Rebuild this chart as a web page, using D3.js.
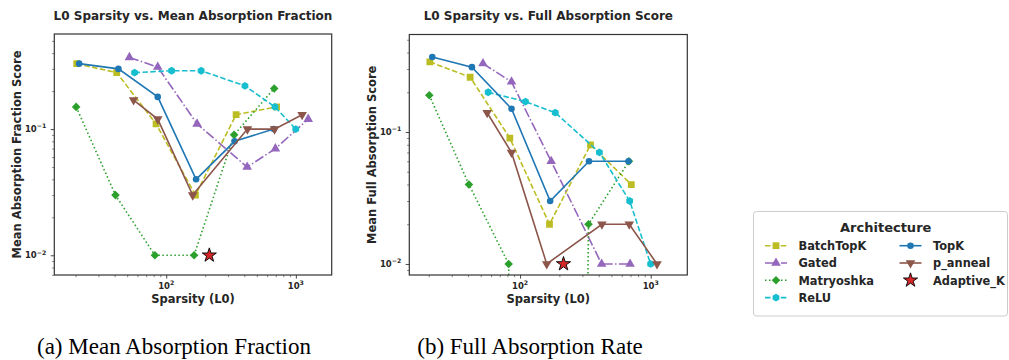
<!DOCTYPE html>
<html>
<head>
<meta charset="utf-8">
<script src="https://cdnjs.cloudflare.com/ajax/libs/d3/7.8.5/d3.min.js"></script>
<style>
  body { margin: 0; background: #fff; }
  svg { display: block; font-family: "DejaVu Sans", sans-serif; }
</style>
</head>
<body>
<div id="chart"></div>
<script>
// series, in the order they were plotted
var architectures = ["BatchTopK", "Gated", "Matryoshka", "ReLU", "TopK", "p_anneal"];

// L0 sparsity of each run
var sparsityBatchTopK  = [20.4, 41.5, 83.5, 168, 346, 710];
var sparsityGated      = [52, 86, 173, 421, 695, 1245];
var sparsityMatryoshka = [20.2, 40.6, 81.8, 164, 334, 681];
var sparsityReLU       = [57, 110, 186, 405, 690, 998];
var sparsityTopK       = [21.3, 42.8, 86, 170, 337, 676];
var sparsityPAnneal    = [56, 86, 160, 423, 685, 1117];

// (a) mean absorption fraction
var meanBatchTopK  = [0.33, 0.28, 0.11, 0.03, 0.13, 0.15];
var meanGated      = [0.37, 0.31, 0.11, 0.05, 0.07, 0.12];
var meanMatryoshka = [0.15, 0.03, 0.01, 0.01, 0.09, 0.21];
var meanReLU       = [0.28, 0.29, 0.29, 0.22, 0.15, 0.10];
var meanTopK       = [0.33, 0.30, 0.18, 0.04, 0.08, 0.10];
var meanPAnneal    = [0.17, 0.12, 0.03, 0.10, 0.10, 0.13];

// (b) full absorption score (0 = off the log axis, null = missing)
var fullBatchTopK  = [0.34, 0.26, 0.09, 0.02, 0.08, 0.04];
var fullGated      = [0.33, 0.24, 0.06, 0.01, 0.01, null];
var fullMatryoshka = [0.19, 0.04, 0.01, 0, 0.02, 0.06];
var fullReLU       = [0.20, 0.17, 0.14, 0.07, 0.03, 0.01];
var fullTopK       = [0.37, 0.31, 0.15, 0.03, 0.06, 0.06];
var fullPAnneal    = [0.14, 0.07, 0.01, 0.02, 0.02, 0.01];

// the single Adaptive_K run
var adaptiveKSparsity = [215];
var adaptiveKMean = [0.01];
var adaptiveKFull = [0.01];

var panelTitles = ["L0 Sparsity vs. Mean Absorption Fraction", "L0 Sparsity vs. Full Absorption Score"];
var yLabels = ["Mean Absorption Fraction Score", "Mean Full Absorption Score"];
var xLabel = "Sparsity (L0)";
var captions = ["(a) Mean Absorption Fraction", "(b) Full Absorption Rate"];
var legendTitle = "Architecture";

var sparsity = [sparsityBatchTopK, sparsityGated, sparsityMatryoshka, sparsityReLU, sparsityTopK, sparsityPAnneal];
var meanValues = [meanBatchTopK, meanGated, meanMatryoshka, meanReLU, meanTopK, meanPAnneal];
var fullValues = [fullBatchTopK, fullGated, fullMatryoshka, fullReLU, fullTopK, fullPAnneal];

// look of each architecture
var colors = {
  BatchTopK: "#bcbd22", Gated: "#9467bd", Matryoshka: "#2ca02c",
  ReLU: "#17becf", TopK: "#1f77b4", p_anneal: "#8c564b"
};
var dashes = {
  BatchTopK: "5.5,2.4", Gated: "9.6,2.4,1.5,2.4", Matryoshka: "1.5,2.5",
  ReLU: "5.5,2.4", TopK: null, p_anneal: null
};
var markers = {
  BatchTopK: "square", Gated: "up", Matryoshka: "diamond",
  ReLU: "hexagon", TopK: "circle", p_anneal: "down"
};

var width = 1009, height = 360;
var textColor = "#262626";

var svg = d3.select("#chart").append("svg")
  .attr("width", width)
  .attr("height", height);

// marker shapes, centred on 0,0
function markerPath(kind) {
  if (kind == "square") return d3.symbol(d3.symbolSquare, 46)();
  if (kind == "circle") return d3.symbol(d3.symbolCircle, 34)();
  if (kind == "up") return d3.symbol(d3.symbolTriangle, 40)();
  if (kind == "down") return d3.symbol(d3.symbolTriangle, 40)();
  if (kind == "star") return d3.symbol(d3.symbolStar, 62)();
  if (kind == "diamond") {
    var r = 4.3;
    return "M0," + (-r) + "L" + r + ",0L0," + r + "L" + (-r) + ",0Z";
  }
  if (kind == "hexagon") {
    var pts = d3.range(6).map(function(i) {
      var a = Math.PI / 3 * i - Math.PI / 2;
      return [3.9 * Math.cos(a), 3.9 * Math.sin(a)];
    });
    return "M" + pts.join("L") + "Z";
  }
}

function addMarker(sel, kind, color) {
  var m = sel.append("path")
    .attr("d", markerPath(kind))
    .attr("fill", color);
  if (kind == "down") m.attr("transform", "rotate(180)");
  if (kind == "star") m.attr("stroke", "#000").attr("stroke-width", 0.9);
  return m;
}

// "10" with a superscript exponent, like matplotlib's log labels
function powerLabel(sel, v) {
  var e = Math.round(Math.log10(v));
  sel.append("tspan").text("10");
  sel.append("tspan")
    .attr("dy", -3.8)
    .attr("font-size", 6.2)
    .text(e < 0 ? "\u2212" + (-e) : e);
}

function minorTicks(domain) {
  var out = [];
  for (var k = -4; k <= 4; k++) {
    for (var m = 2; m <= 9; m++) {
      var v = m * Math.pow(10, k);
      if (v >= domain[0] && v <= domain[1]) out.push(v);
    }
  }
  return out;
}

function majorTicks(domain) {
  var out = [];
  for (var k = -4; k <= 4; k++) {
    var v = Math.pow(10, k);
    if (v >= domain[0] && v <= domain[1]) out.push(v);
  }
  return out;
}

var panels = [
  { left: 54.3, right: 331.7, top: 34, bottom: 275, xDomain: [13.7, 1890], yDomain: [0.00698, 0.567],
    values: meanValues, star: adaptiveKMean, title: panelTitles[0], yLabel: yLabels[0],
    yLabelX: 20.5, caption: captions[0], captionX: 174 },
  { left: 409.3, right: 687.3, top: 34.5, bottom: 275, xDomain: [14.2, 1905], yDomain: [0.00825, 0.548],
    values: fullValues, star: adaptiveKFull, title: panelTitles[1], yLabel: yLabels[1],
    yLabelX: 375.5, caption: captions[1], captionX: 530 }
];

panels.forEach(function(p, pi) {
  var x = d3.scaleLog().domain(p.xDomain).range([p.left, p.right]);
  var y = d3.scaleLog().domain(p.yDomain).range([p.bottom, p.top]);
  var g = svg.append("g");

  g.append("clipPath")
    .attr("id", "clip" + pi)
    .append("rect")
    .attr("x", p.left).attr("y", p.top)
    .attr("width", p.right - p.left).attr("height", p.bottom - p.top);

  // ticks (minor then major), domain line replaced by the frame below
  var xMinor = g.append("g")
    .attr("transform", "translate(0," + p.bottom + ")")
    .call(d3.axisBottom(x).tickValues(minorTicks(p.xDomain)).tickSize(2.2).tickFormat(""));
  var xMajor = g.append("g")
    .attr("transform", "translate(0," + p.bottom + ")")
    .call(d3.axisBottom(x).tickValues(majorTicks(p.xDomain)).tickSize(3.6).tickFormat(""));
  var yMinor = g.append("g")
    .attr("transform", "translate(" + p.left + ",0)")
    .call(d3.axisLeft(y).tickValues(minorTicks(p.yDomain)).tickSize(2.2).tickFormat(""));
  var yMajor = g.append("g")
    .attr("transform", "translate(" + p.left + ",0)")
    .call(d3.axisLeft(y).tickValues(majorTicks(p.yDomain)).tickSize(3.6).tickFormat(""));
  [xMinor, xMajor, yMinor, yMajor].forEach(function(a) {
    a.select(".domain").remove();
    a.selectAll("line").attr("stroke", "#333");
  });
  xMinor.selectAll("line").attr("stroke-width", 0.6);
  yMinor.selectAll("line").attr("stroke-width", 0.6);
  xMajor.selectAll("line").attr("stroke-width", 0.9);
  yMajor.selectAll("line").attr("stroke-width", 0.9);

  // tick labels
  majorTicks(p.xDomain).forEach(function(v) {
    var t = g.append("text")
      .attr("x", x(v)).attr("y", p.bottom + 13.5)
      .attr("text-anchor", "middle")
      .attr("font-size", 8.5).attr("font-weight", "bold")
      .attr("fill", textColor);
    powerLabel(t, v);
  });
  majorTicks(p.yDomain).forEach(function(v) {
    var t = g.append("text")
      .attr("x", p.left - 8).attr("y", y(v) + 3.2)
      .attr("text-anchor", "end")
      .attr("font-size", 8.5).attr("font-weight", "bold")
      .attr("fill", textColor);
    powerLabel(t, v);
  });

  // series
  var plot = g.append("g").attr("clip-path", "url(#clip" + pi + ")");
  var line = d3.line()
    .defined(function(d) { return d.y != null; })
    .x(function(d) { return x(d.x); })
    .y(function(d) { return y(Math.max(d.y, 1e-30)); });

  architectures.forEach(function(name, i) {
    var pts = sparsity[i].map(function(s, j) { return { x: s, y: p.values[i][j] }; });
    plot.append("path")
      .datum(pts)
      .attr("d", line)
      .attr("fill", "none")
      .attr("stroke", colors[name])
      .attr("stroke-width", 1.6)
      .attr("stroke-dasharray", dashes[name]);
    pts.forEach(function(d) {
      if (d.y == null || d.y <= 0) return;
      var mg = plot.append("g").attr("transform", "translate(" + x(d.x) + "," + y(d.y) + ")");
      addMarker(mg, markers[name], colors[name]);
    });
  });

  adaptiveKSparsity.forEach(function(s, j) {
    var mg = plot.append("g").attr("transform", "translate(" + x(s) + "," + y(p.star[j]) + ")");
    addMarker(mg, "star", "#d62728");
  });

  // frame
  g.append("rect")
    .attr("x", p.left).attr("y", p.top)
    .attr("width", p.right - p.left).attr("height", p.bottom - p.top)
    .attr("fill", "none")
    .attr("stroke", "#333")
    .attr("stroke-width", 1.2);

  // titles and labels
  g.append("text")
    .attr("x", (p.left + p.right) / 2).attr("y", 20)
    .attr("text-anchor", "middle")
    .attr("font-size", 12).attr("font-weight", "bold")
    .attr("fill", textColor)
    .text(p.title);
  g.append("text")
    .attr("x", (p.left + p.right) / 2).attr("y", 303)
    .attr("text-anchor", "middle")
    .attr("font-size", 11.5).attr("font-weight", "bold")
    .attr("fill", textColor)
    .text(xLabel);
  g.append("text")
    .attr("transform", "translate(" + p.yLabelX + "," + (p.top + p.bottom) / 2 + ")rotate(-90)")
    .attr("text-anchor", "middle")
    .attr("font-size", 11.5).attr("font-weight", "bold")
    .attr("fill", textColor)
    .text(p.yLabel);

  // sub-figure caption
  svg.append("text")
    .attr("x", p.captionX).attr("y", 354)
    .attr("text-anchor", "middle")
    .attr("font-family", "'Liberation Serif', serif")
    .attr("font-size", 23)
    .attr("fill", "#000")
    .text(p.caption);
});

// legend
var legend = svg.append("g");
legend.append("rect")
  .attr("x", 753.5).attr("y", 211.5)
  .attr("width", 254).attr("height", 104.5)
  .attr("rx", 3)
  .attr("fill", "#fff")
  .attr("stroke", "#cccccc")
  .attr("stroke-width", 1);
legend.append("text")
  .attr("x", 885.7).attr("y", 232)
  .attr("text-anchor", "middle")
  .attr("font-size", 13).attr("font-weight", "bold")
  .attr("fill", textColor)
  .text(legendTitle);

var legendItems = architectures.concat(["Adaptive_K"]);
legendItems.forEach(function(name, i) {
  var col = i < 4 ? 0 : 1, row = i < 4 ? i : i - 4;
  var hx = col == 0 ? 765 : 899.5;
  var cy = 245.7 + row * 17.3;
  var item = legend.append("g");
  if (name == "Adaptive_K") {
    var sg = item.append("g").attr("transform", "translate(" + (hx + 11) + "," + cy + ")");
    addMarker(sg, "star", "#d62728");
  } else {
    item.append("line")
      .attr("x1", hx).attr("x2", hx + 22)
      .attr("y1", cy).attr("y2", cy)
      .attr("stroke", colors[name])
      .attr("stroke-width", 1.6)
      .attr("stroke-dasharray", dashes[name]);
    var mg = item.append("g").attr("transform", "translate(" + (hx + 11) + "," + cy + ")");
    addMarker(mg, markers[name], colors[name]);
  }
  item.append("text")
    .attr("x", hx + 33.5).attr("y", cy + 4.2)
    .attr("font-size", 11.4).attr("font-weight", "bold")
    .attr("fill", textColor)
    .text(name);
});
</script>
</body>
</html>
